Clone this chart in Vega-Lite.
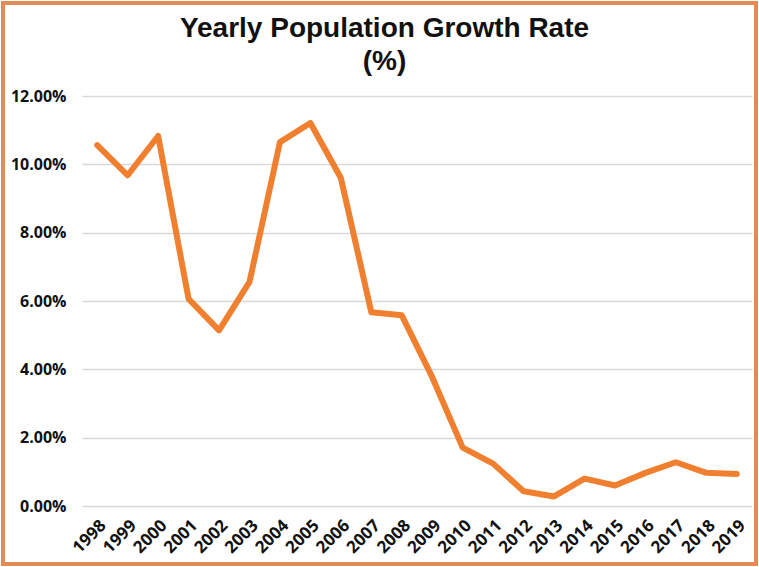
{
  "$schema": "https://vega.github.io/schema/vega-lite/v6.json",
  "width": 753,
  "height": 561,
  "padding": 3,
  "autosize": "none",
  "background": "white",
  "title": {
    "text": ["Yearly Population Growth Rate", "(%)"],
    "font": "Liberation Sans",
    "fontSize": 28,
    "fontWeight": "bold",
    "color": "#111111",
    "lineHeight": 33,
    "anchor": "middle",
    "frame": "group",
    "offset": -73,
    "dx": 5
  },
  "data": {
    "values": [
      {"year": "1998", "rate": 10.56},
      {"year": "1999", "rate": 9.68},
      {"year": "2000", "rate": 10.83},
      {"year": "2001", "rate": 6.06},
      {"year": "2002", "rate": 5.14},
      {"year": "2003", "rate": 6.56},
      {"year": "2004", "rate": 10.65},
      {"year": "2005", "rate": 11.21},
      {"year": "2006", "rate": 9.6},
      {"year": "2007", "rate": 5.67},
      {"year": "2008", "rate": 5.58},
      {"year": "2009", "rate": 3.77},
      {"year": "2010", "rate": 1.71},
      {"year": "2011", "rate": 1.24},
      {"year": "2012", "rate": 0.43},
      {"year": "2013", "rate": 0.28},
      {"year": "2014", "rate": 0.8},
      {"year": "2015", "rate": 0.6},
      {"year": "2016", "rate": 0.97},
      {"year": "2017", "rate": 1.28},
      {"year": "2018", "rate": 0.97},
      {"year": "2019", "rate": 0.94}
    ]
  },
  "mark": {
    "type": "line",
    "color": "#F0802F",
    "strokeWidth": 6,
    "strokeJoin": "round",
    "strokeCap": "round"
  },
  "encoding": {
    "x": {
      "field": "year",
      "type": "ordinal",
      "scale": {"type": "point", "range": [79, 749], "padding": 0.5},
      "axis": {
        "title": null,
        "orient": "bottom",
        "offset": -58,
        "labelAngle": -45,
        "labelAlign": "right",
        "labelBaseline": "top",
        "labelPadding": 11,
        "labelFont": "Open Sans",
        "labelFontSize": 17,
        "labelFontWeight": "bold",
        "labelColor": "#111111",
        "labelOverlap": false,
        "labelBound": false,
        "labelFlush": false,
        "grid": false,
        "domain": false,
        "ticks": false,
        "tickSize": 0
      }
    },
    "y": {
      "field": "rate",
      "type": "quantitative",
      "scale": {"domain": [0, 12], "range": [503, 93], "nice": false, "zero": true},
      "axis": {
        "title": null,
        "orient": "left",
        "offset": -79,
        "values": [0, 2, 4, 6, 8, 10, 12],
        "labelExpr": "format(datum.value, '.2f') + '%'",
        "labelPadding": 16,
        "labelFont": "Open Sans",
        "labelFontSize": 16,
        "labelFontWeight": "bold",
        "labelColor": "#111111",
        "labelBaseline": "middle",
        "grid": true,
        "gridColor": "#D9D9D9",
        "gridWidth": 1.3,
        "domain": false,
        "ticks": false,
        "tickSize": 0
      }
    }
  },
  "config": {
    "view": {"stroke": "#E38B57", "strokeWidth": 4}
  }
}
